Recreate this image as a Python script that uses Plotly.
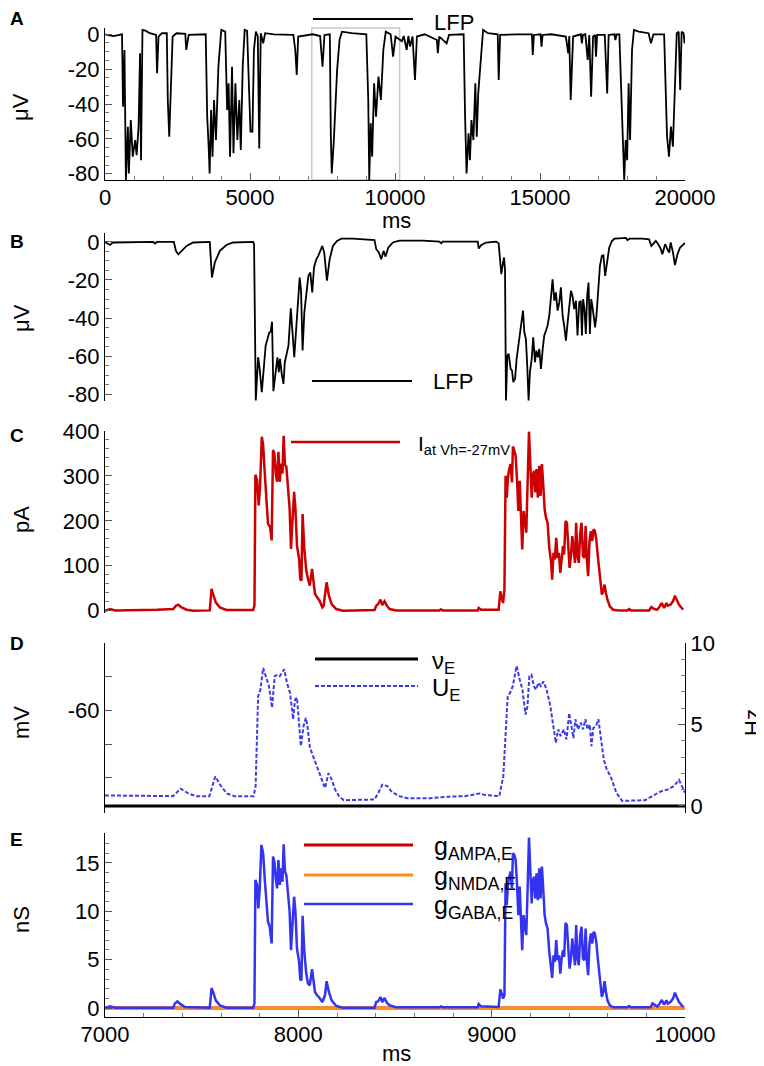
import plotly.graph_objects as go

FONT = "Liberation Sans, Arial, Helvetica, sans-serif"
W, H = 764, 1066

# ---------------- data ----------------
# Panel A: LFP over the whole 20 s (ms, µV)
a_t = [0,285,587,621,671,721,789,822,889,956,
       1040,1091,1158,1208,1242,1292,1393,1544,1762,1795,
       1846,1963,2131,2165,2215,2265,2332,2467,2769,2802,
       2886,3473,3524,3574,3608,3658,3708,3759,3826,3910,
       4010,4145,4212,4262,4312,4380,4430,4497,4564,4631,
       4682,4749,4816,4900,4984,5017,5084,5135,5202,5269,
       5319,5370,5454,5521,5823,6494,6561,6611,6662,7165,
       7417,7501,7568,7752,7786,7819,7886,7937,8004,8088,
       8172,8507,9011,9078,9112,9162,9212,9279,9346,9430,
       9514,9598,9682,9850,9934,10018,10236,10300,10404,10460,
       10521,10605,10689,10756,11024,11444,11477,11528,11780,11864,
       12367,12417,12468,12535,12585,12635,12703,12770,12820,12870,
       12954,13038,13206,13542,13575,13626,14213,14720,14750,14790,
       15020,15052,15090,15387,15891,15975,16010,16058,16142,16410,
       16444,16480,16562,16646,16700,16763,16830,16900,16931,16970,
       17233,17317,17367,17570,17600,17640,17736,17803,17854,17904,
       17954,18005,18055,18106,18173,18240,18407,18743,18827,18911,
       19280,19331,19381,19448,19515,19582,19649,19716,19783,19834,
       19884,19951,19985]
a_lfp = [0,-1.0,0,-41.5,-9.0,-83.6,-53.0,-79.8,-49.2,-70.2,
         -60.7,-69.3,-53.0,-10.9,-72.2,2.5,2.1,0.6,-0.4,-22.4,
         -1.3,0.6,0.6,-37.7,-58.8,-30.0,-1.3,0.6,0.2,-9.0,
         -0.4,0,-47.3,-64.5,-79.8,-43.4,-70.2,-37.7,-60.7,-18.6,
         2.5,1.5,-43.4,-28.1,-70.2,-18.6,-68.3,-28.1,-60.7,-37.7,
         -66.4,-18.6,2.5,1.9,-37.7,-55.9,-55.9,-9.0,1.5,-1.3,
         -65.5,0.6,-5.2,0.6,0,-0.4,-9.0,-23.3,-1.3,0,
         -1.0,-18.6,-0.4,0,-56.8,-79.8,-62.6,-43.4,-20.5,-3.3,
         1.5,0.6,0,-37.7,-83.6,-51.1,-70.2,-28.1,-47.3,-24.3,
         -37.7,-9.0,1.5,0,-12.8,-1.3,-4.0,-1.0,-9.0,-1.0,
         -7.1,-1.3,-26.2,-1.3,0,-3.3,-10.9,-1.3,-5.2,-0.4,
         0,-47.3,-79.8,-56.8,-72.2,-49.2,-60.7,-28.1,-58.8,-33.9,
         -14.7,2.5,0.6,0,-26.2,-0.4,0,0,-11.9,-0.4,
         0,-7.1,-0.4,0,-1.3,-10.9,-1.0,-37.7,-1.3,0,
         -5.2,-0.4,0,-14.7,-0.4,-35.8,-1.3,-0.4,-12.8,-0.4,
         -0.4,-33.9,-0.4,0,-3.3,0,0,-37.7,-66.4,-83.6,
         -60.7,-72.2,-28.1,-60.7,-9.0,2.5,1.5,0.6,-5.2,0,
         0,-24.3,-58.8,-70.2,-53.0,-64.5,-35.8,0.6,1.5,-32.0,
         1.5,0.6,-5.2]
a_box = [7130, 10160]          # grey zoom window marked in panel A (ms)
a_xticks = [0, 5000, 10000, 15000, 20000]
a_xlabels = ["0", "5000", "10000", "15000", "20000"]
a_yticks = [0, -20, -40, -60, -80]
a_ylabels = ["0", "-20", "-40", "-60", "-80"]

# Panel B: LFP, 7-10 s (ms, µV)
b_t = [7000,7026,7040,7250,7258,7270,7356,7367,7379,7396,
       7422,7456,7542,7553,7568,7594,7628,7663,7766,7771,
       7780,7792,7800,7811,7821,7831,7838,7849,7857,7864,
       7871,7881,7892,7899,7905,7914,7923,7930,7942,7949,
       7961,7967,7979,7990,8000,8007,8014,8022,8031,8041,
       8052,8062,8072,8081,8093,8103,8114,8124,8134,8148,
       8162,8179,8200,8222,8282,8351,8394,8403,8417,8429,
       8441,8451,8465,8489,8523,8644,8730,8739,8747,8816,
       8928,8933,8945,8971,9023,9036,9043,9050,9059,9064,
       9069,9074,9081,9088,9098,9105,9112,9121,9129,9138,
       9146,9155,9162,9169,9177,9184,9191,9198,9207,9215,
       9224,9231,9239,9246,9255,9264,9272,9281,9289,9298,
       9308,9315,9324,9332,9341,9350,9358,9367,9375,9384,
       9393,9401,9410,9418,9427,9436,9444,9453,9461,9467,
       9473,9480,9487,9494,9501,9508,9515,9522,9529,9535,
       9542,9551,9560,9570,9578,9587,9597,9608,9622,9635,
       9659,9694,9702,9714,9780,9814,9826,9840,9849,9862,
       9875,9883,9897,9909,9918,9926,9938,9948,9961,9974,
       9990,10000]
b_lfp = [0,-1.6,-0.3,0,-0.9,0,0,-4.7,-6.5,-4.7,
         -2.1,-0.3,0,-18.7,-10.8,-4.7,-1.6,-0.3,0,-1.2,
         -83.3,-60.6,-66.7,-79.0,-65.8,-54.5,-51.9,-47.8,-47.1,-41.9,
         -78.4,-68.4,-60.6,-68.4,-61.5,-69.3,-74.6,-63.2,-57.1,-54.5,
         -34.9,-43.1,-60.6,-44.0,-30.0,-18.7,-25.7,-57.1,-37.0,-26.5,
         -17.8,-16.1,-26.5,-13.4,-9.1,-7.3,-4.7,-2.1,-5.6,-20.4,
         -9.1,-2.1,0.5,1.7,1.7,1.4,1.0,-3.8,-5.6,-9.1,
         -4.7,-7.7,-3.0,-0.3,0.7,0.7,0.2,-0.7,0.2,0.2,
         0.2,-3.5,-1.7,-0.3,0.2,-0.7,-9.1,-16.9,-10.8,-8.2,
         -14.3,-83.3,-59.7,-58.8,-66.7,-67.5,-73.7,-71.9,-61.5,-54.5,
         -49.2,-42.3,-36.1,-47.5,-51.0,-65.0,-83.3,-68.4,-61.5,-50.1,
         -63.2,-57.1,-60.6,-56.2,-66.7,-56.2,-49.2,-46.6,-44.0,-38.8,
         -29.2,-19.6,-30.9,-26.5,-36.1,-31.8,-23.9,-38.8,-44.0,-51.9,
         -42.3,-33.5,-25.7,-28.3,-35.3,-30.9,-49.2,-31.8,-30.9,-49.2,
         -30.0,-35.3,-48.4,-28.3,-21.3,-48.4,-30.0,-34.4,-42.3,-44.9,
         -38.8,-23.9,-12.6,-7.3,-7.0,-17.8,-10.0,-3.0,0.5,1.7,
         1.9,2.1,1.0,1.7,1.7,1.4,-2.1,-0.3,0.5,-1.2,
         -3.8,-6.5,-1.2,-3.8,-5.6,-0.3,-5.6,-12.2,-6.5,-3.0,
         -1.7,-0.5]
b_yticks = [0, -20, -40, -60, -80]
b_ylabels = ["0", "-20", "-40", "-60", "-80"]

# Panel C: current at Vh = -27 mV (ms, pA)
c_t = [7000,7026,7052,7258,7267,7353,7367,7379,7396,7422,
       7456,7542,7551,7559,7573,7594,7628,7766,7773,7778,
       7787,7795,7802,7811,7818,7826,7835,7843,7854,7862,
       7869,7876,7883,7890,7897,7904,7911,7918,7924,7931,
       7938,7947,7955,7962,7969,7978,7985,7993,8004,8010,
       8016,8022,8031,8041,8050,8059,8071,8079,8086,8097,
       8110,8124,8131,8146,8158,8172,8196,8231,8394,8403,
       8413,8425,8434,8446,8458,
       8472,8506,8730,8738,8747,8928,8933,8945,9036,9045,
       9052,9059,9066,9072,9078,9084,9091,9098,9105,9110,
       9117,9124,9131,9138,9145,9152,9158,9165,9172,9179,
       9186,9193,9200,9207,9214,9220,9226,9232,9239,9246,
       9253,9260,9267,9274,9281,9289,9298,9307,9313,9320,
       9327,9334,9341,9348,9355,9362,9369,9375,9382,9389,
       9396,9403,9410,9417,9424,9431,9437,9444,9451,9458,
       9465,9472,9479,9486,9492,9499,9506,9513,9520,9527,
       9534,9541,9549,9560,9570,9577,9584,9591,9599,9611,
       9628,9659,9702,9711,9721,9814,9826,9840,9857,9869,
       9880,9892,9904,9911,9924,9938,9948,9957,9969,9983,
       9990]
c_i = [0,3.7,0.7,0.7,2.2,3.7,11.2,13.4,7.4,2.2,
       0,0.7,48.4,37.2,18.6,7.4,1.5,1.5,11.2,302.7,
       290,234.6,275.6,387.3,368.7,309.2,257.1,193.7,186.3,156.4,
       357.6,350.2,305.5,286.9,353.9,286.9,327.7,305.5,389.5,324,
       320.3,260.7,227.2,137.6,189.8,264.4,227.2,145.1,115.2,70.6,
       66.8,215.3,137.6,89.4,70.6,55.9,92.9,63.2,37.2,29.8,
       22.3,7.4,11.2,63.2,33.5,14.9,3.7,0,1.5,11.2,
       14.9,24.6,12.7,20.9,11.2,
       3.7,0.7,0.7,3.0,0.7,0.7,6.0,2.2,2.2,43.2,
       28.3,17.1,46.9,300.2,251.8,296.5,315.1,326.3,285.3,365.7,
       356.1,344.9,292.7,222,289,214.5,136.3,222,203.4,173.6,
       281.6,398.5,326.3,251.8,303.9,311.4,263,315.1,251.8,322.5,
       255.5,326.3,277.9,225.7,207.1,195.9,140,110.2,69.3,128.9,
       114,162.4,117.7,128.9,84.2,121.4,143.8,125.1,199.6,195.9,
       128.9,95.3,121.4,166.1,136.3,106.5,195.9,121.4,106.5,173.6,
       195.9,121.4,117.7,188.5,117.7,76.7,154.9,177.3,154.9,181,
       177.3,158.7,121.4,76.7,35.8,43.2,58.1,39.5,24.6,9.7,
       2.2,0.7,0.7,3.7,0.7,0.7,8.2,3.7,2.2,9.7,
       17.1,6.0,17.1,11.2,13.4,20.9,33.5,24.6,13.4,6.0,
       2.2]
c_yticks = [0, 100, 200, 300, 400]

# Panel D: population rate nu_E (Hz) and mean potential U_E (mV)
nu_t = [7000, 10000]
nu_e = [0, 0]
d_t = [7000,7352,7391,7431,7471,7540,7570,7600,7630,7669,
       7769,7779,7792,7804,7818,7832,7848,7864,7878,7892,
       7904,7916,7927,7941,7957,7973,7983,7993,8003,8013,
       8027,8039,8047,8059,8070,8086,8102,8122,8138,8156,
       8172,8190,8210,8235,8364,8394,8414,8434,8460,8484,
       8523,8563,8682,8762,8861,8940,8960,9000,9040,9050,
       9060,9083,9095,9109,9129,9145,9159,9175,9185,9195,
       9206,9218,9230,9242,9254,9268,9284,9302,9318,9332,
       9344,9357,9373,9387,9401,9413,9423,9433,9447,9461,
       9473,9485,9496,9508,9516,9526,9540,9552,9566,9580,
       9596,9616,9645,9675,9794,9834,9874,9913,9943,9969,
       9983,10000]
d_u = [-72.6,-72.7,-71.6,-72.3,-72.7,-72.7,-69.8,-71.2,-72.3,-72.7,
       -72.7,-71.2,-57.9,-56.9,-53.7,-54.9,-56.4,-59.6,-54.9,-54.7,
       -54.9,-54.4,-53.9,-55.9,-57.4,-61.3,-58.4,-58.1,-62.3,-65.3,
       -62.3,-61.1,-62.3,-65.3,-66.3,-67.5,-68.8,-70.2,-71.5,-69.3,
       -70.2,-71.7,-72.7,-73.3,-73.3,-73.2,-72.2,-71.0,-71.2,-72.1,
       -72.7,-73.0,-73.0,-72.8,-72.7,-72.3,-72.5,-72.6,-72.7,-71.2,
       -69.8,-57.9,-57.4,-56.4,-53.4,-55.4,-56.9,-60.6,-59.4,-54.9,
       -54.7,-56.4,-56.9,-55.9,-56.4,-55.7,-56.9,-59.1,-61.8,-64.8,
       -62.8,-63.8,-62.8,-64.3,-60.4,-62.6,-64.1,-61.3,-62.8,-61.8,
       -62.8,-61.3,-62.8,-62.1,-65.3,-62.6,-62.3,-61.3,-64.3,-67.3,
       -68.8,-69.8,-72.2,-73.4,-73.3,-72.7,-72.0,-71.7,-71.2,-70.3,
       -71.2,-72.2]
d_mv_ticks = [-70, -65, -60, -55, -50]
d_mv_labels = ["", "", "-60", "", ""]
d_hz_ticks = [0, 5, 10]

# Panel E: conductances (ms, nS)
g_t0 = [7000, 10000]
g_ampa = [0, 0]
g_nmda = [0, 0]
e_t = [7000,7026,7052,7258,7353,7361,7374,7387,7413,7542,
       7551,7559,7573,7594,7628,7766,7773,7778,7787,7793,
       7800,7809,7818,7826,7835,7843,7852,7862,7869,7876,
       7883,7890,7897,7904,7911,7918,7924,7931,7938,7947,
       7955,7962,7969,7978,7985,7993,8004,8010,8016,8022,
       8031,8041,8050,8059,8071,8079,8086,8097,8110,8124,
       8138,8146,8158,8172,8196,8231,8394,8403,8413,8425,
       8434,8446,8458,
       8472,8506,8730,8738,8747,8928,8933,8945,9036,9045,
       9052,9059,9066,9072,9078,9084,9091,9098,9105,9110,
       9117,9124,9131,9138,9145,9152,9158,9165,9172,9179,
       9186,9193,9200,9207,9214,9220,9226,9232,9239,9246,
       9253,9260,9267,9274,9281,9289,9298,9307,9313,9320,
       9327,9334,9341,9348,9355,9362,9369,9375,9382,9389,
       9396,9403,9410,9417,9424,9431,9437,9444,9451,9458,
       9465,9472,9479,9486,9492,9499,9506,9513,9520,9527,
       9534,9541,9549,9560,9570,9577,9584,9591,9599,9611,
       9628,9702,9711,9721,9822,9832,9844,9857,9869,9880,
       9892,9904,9911,9924,9938,9948,9957,9969,9983,9990]
e_gaba = [0,0.17,0.03,0.03,0.03,0.45,0.69,0.45,0.10,0.03,
          2.07,1.66,0.80,0.28,0.03,0.03,0.45,13.24,12.72,10.30,
          12.20,16.87,16.00,13.41,11.16,8.92,8.40,6.67,15.66,15.14,
          13.41,12.37,15.31,12.72,14.45,13.07,16.94,14.10,13.76,11.34,
          9.96,5.98,8.23,11.51,9.96,6.15,4.77,2.97,2.87,9.54,
          5.81,3.56,2.52,2.35,4.01,2.52,1.66,1.31,1.04,0.62,
          1.31,2.77,1.66,0.80,0.21,0.03,0.03,0.62,0.69,1.14,
          0.62,1.04,0.55,
          0.28,0.07,0.07,0.17,0.07,0.07,0.41,0.17,0.10,1.94,
          1.49,0.97,1.31,12.89,10.65,12.72,13.58,14.10,12.37,16.00,
          15.83,15.31,12.89,9.61,12.55,9.26,5.98,9.61,8.57,7.54,
          12.37,17.63,14.28,10.82,13.24,13.58,11.34,13.93,11.16,14.45,
          11.34,14.62,12.20,9.61,8.75,8.23,5.81,4.42,3.11,5.46,
          4.77,7.02,4.94,5.46,3.56,5.12,5.98,5.29,8.81,8.57,
          5.46,4.08,5.12,7.19,5.81,4.42,8.57,5.12,4.42,7.54,
          8.40,5.12,4.94,8.23,4.94,3.39,6.67,7.71,6.67,7.88,
          7.71,6.84,5.12,2.97,1.14,1.66,2.77,1.66,0.80,0.28,
          0.07,0.07,0.21,0.07,0.07,0.48,0.28,0.14,0.45,0.83,
          0.35,0.80,0.45,0.62,0.97,1.59,1.14,0.62,0.28,0.10]
e_xticks = [7000, 8000, 9000, 10000]
e_xlabels = ["7000", "8000", "9000", "10000"]
e_yticks = [0, 5, 10, 15]

# ---------------- styling ----------------
RED = "rgb(204,0,0)"
BLUE = "rgb(51,51,240)"
DBLUE = "rgb(60,60,230)"
ORANGE = "rgb(255,140,20)"

# the page body adds an 8 px offset; positions below are given in screen pixels
OFF = 8


def px(x):
    return (x - OFF) / W


def py(y):
    return 1 - (y - OFF) / H


XD = [px(105), px(685)]

fig = go.Figure()
fig.add_trace(go.Scatter(x=a_t, y=a_lfp, mode="lines", line=dict(color="black", width=1.8),
                         xaxis="x", yaxis="y", showlegend=False))
fig.add_trace(go.Scatter(x=b_t, y=b_lfp, mode="lines", line=dict(color="black", width=1.8),
                         xaxis="x2", yaxis="y2", showlegend=False))
fig.add_trace(go.Scatter(x=c_t, y=c_i, mode="lines", line=dict(color=RED, width=2.5),
                         xaxis="x3", yaxis="y3", showlegend=False))
fig.add_trace(go.Scatter(x=d_t, y=d_u, mode="lines", line=dict(color=DBLUE, width=2, dash="4px,2px"),
                         xaxis="x4", yaxis="y4", showlegend=False))
fig.add_trace(go.Scatter(x=nu_t, y=nu_e, mode="lines", line=dict(color="black", width=3),
                         xaxis="x4", yaxis="y5", showlegend=False))
fig.add_trace(go.Scatter(x=g_t0, y=g_ampa, mode="lines", line=dict(color=RED, width=3),
                         xaxis="x5", yaxis="y6", showlegend=False))
fig.add_trace(go.Scatter(x=g_t0, y=g_nmda, mode="lines", line=dict(color=ORANGE, width=3),
                         xaxis="x5", yaxis="y6", showlegend=False))
fig.add_trace(go.Scatter(x=e_t, y=e_gaba, mode="lines", line=dict(color=BLUE, width=2.5),
                         xaxis="x5", yaxis="y6", showlegend=False))

tickfont = dict(family=FONT, size=22, color="black")
common = dict(showgrid=False, zeroline=False, ticks="inside", ticklen=7, tickwidth=1,
              tickcolor="#555", showline=True, linecolor="black", linewidth=1.2,
              tickfont=tickfont, automargin=False)
minor = lambda d: dict(dtick=d, ticks="inside", ticklen=4, tickwidth=1, tickcolor="#777")
hidden_x = dict(visible=False, range=[7000, 10000], domain=XD, automargin=False)

fig.update_layout(
    template="none",
    width=W, height=H, margin=dict(l=0, r=0, t=0, b=0, pad=0, autoexpand=False),
    paper_bgcolor="white", plot_bgcolor="white",
    font=dict(family=FONT, size=22, color="black"),
    showlegend=False,
    xaxis=dict(common, domain=XD, anchor="y", range=[0, 20000], tickmode="array",
               tickvals=a_xticks, ticktext=a_xlabels, minor=minor(1000),
               ticklabelstandoff=-3),
    yaxis=dict(common, domain=[py(180), py(28)], anchor="x", range=[-83.6, 3.6],
               tickmode="array", tickvals=a_yticks, ticktext=a_ylabels, minor=minor(5)),
    xaxis2=dict(hidden_x, anchor="y2"),
    yaxis2=dict(common, domain=[py(401), py(233)], anchor="x2", range=[-83.6, 4.7],
                tickmode="array", tickvals=b_yticks, ticktext=b_ylabels, minor=minor(5)),
    xaxis3=dict(hidden_x, anchor="y3"),
    yaxis3=dict(common, domain=[py(613), py(431)], anchor="x3", range=[-5.1, 400],
                tickmode="array", tickvals=c_yticks, minor=minor(20)),
    xaxis4=dict(hidden_x, anchor="y4"),
    yaxis4=dict(common, domain=[py(813), py(643)], anchor="x4", range=[-75.2, -50],
                tickmode="array", tickvals=d_mv_ticks, ticktext=d_mv_labels),
    yaxis5=dict(common, overlaying="y4", anchor="x4", side="right", range=[-0.43, 10],
                tickmode="array", tickvals=d_hz_ticks, minor=minor(1)),
    xaxis5=dict(common, domain=XD, anchor="y6", range=[7000, 10000], tickmode="array",
                tickvals=e_xticks, ticktext=e_xlabels, minor=minor(200),
                ticklabelstandoff=-3),
    yaxis6=dict(common, domain=[py(1017), py(833)], anchor="x5", range=[-0.93, 18.1],
                tickmode="array", tickvals=e_yticks, minor=minor(1)),
)

shapes = [
    dict(type="rect", xref="x", yref="y domain", x0=a_box[0], x1=a_box[1], y0=0, y1=1,
         line=dict(color="#c8c8c8", width=1.5), layer="below"),
]


def legline(x0, x1, y, color, width, dash=None):
    ln = dict(color=color, width=width)
    if dash:
        ln["dash"] = dash
    shapes.append(dict(type="line", xref="paper", yref="paper", x0=px(x0), x1=px(x1),
                       y0=py(y), y1=py(y), line=ln))


legline(313, 413, 19, "black", 2)
legline(312, 412, 381, "black", 2)
legline(291, 400, 442, RED, 2.5)
legline(315, 418, 659, "black", 3)
legline(315, 418, 686, DBLUE, 2, "4px,2px")
legline(304, 413, 845, RED, 3)
legline(304, 413, 875, ORANGE, 3)
legline(304, 413, 904, BLUE, 2.5)

annotations = []


def text(x, y, s, size=22, xanchor="left", yanchor="middle", angle=0, bold=False):
    if bold:
        s = "<b>" + s + "</b>"
    annotations.append(dict(xref="paper", yref="paper", x=px(x), y=py(y), text=s,
                            showarrow=False, xanchor=xanchor, yanchor=yanchor,
                            textangle=angle, font=dict(family=FONT, size=size, color="black")))


# panel letters
text(8, 18, "A", 19, bold=True)
text(8, 241, "B", 19, bold=True)
text(8, 435, "C", 19, bold=True)
text(8, 643, "D", 19, bold=True)
text(8, 839, "E", 19, bold=True)
# axis titles
text(21, 107, "μV", 22, "center", angle=-90)
text(21, 318, "μV", 22, "center", angle=-90)
text(21, 520, "pA", 22, "center", angle=-90)
text(21, 723, "mV", 22, "center", angle=-90)
text(21, 920, "nS", 22, "center", angle=-90)
text(752, 723, "Hz", 22, "center", angle=-90)
text(396, 220, "ms", 22, "center")
text(396, 1053, "ms", 22, "center")
# legend labels
text(432, 8, "LFP", 22, yanchor="top")
text(431, 381, "LFP", 22)
text(416, 445, "I<sub>at Vh=-27mV</sub>", 21)
text(430, 662, "ν<sub>E</sub>", 24)
text(430, 690, "U<sub>E</sub>", 24)
text(432, 848, "g<sub>AMPA,E</sub>", 25)
text(432, 878, "g<sub>NMDA,E</sub>", 25)
text(432, 907, "g<sub>GABA,E</sub>", 25)

fig.update_layout(shapes=shapes, annotations=annotations)
fig.write_html("out.html")
